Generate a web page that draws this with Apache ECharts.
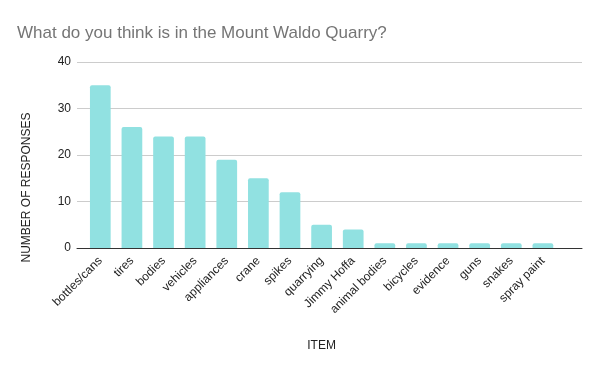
<!DOCTYPE html>
<html><head><meta charset="utf-8">
<script src="https://cdn.jsdelivr.net/npm/echarts@6/dist/echarts.min.js"></script>
<style>html,body{margin:0;padding:0;background:#fff}#c{width:600px;height:371px}</style>
</head><body><div id="c"></div>
<script>
const categories = ["bottles/cans","tires","bodies","vehicles","appliances","crane","spikes","quarrying","Jimmy Hoffa","animal bodies","bicycles","evidence","guns","snakes","spray paint"];
const responses = [35,26,24,24,19,15,12,5,4,1,1,1,1,1,1];
const yTicks = [0,10,20,30,40];
const FONT = "Liberation Sans, Arial";
const chart = echarts.init(document.getElementById('c'));
chart.setOption({
  animation:false,
  title:{text:"What do you think is in the Mount Waldo Quarry?",left:17,top:25,padding:0,textStyle:{fontFamily:FONT,fontSize:17,fontWeight:"normal",color:"#757575"}},
  grid:[
    {left:84.5,right:41.3,top:62,bottom:123},
    {left:77,right:18,top:62,bottom:123}
  ],
  xAxis:[
    {type:"category",gridIndex:0,data:categories,name:"ITEM",nameLocation:"middle",nameGap:92,
      nameTextStyle:{fontFamily:FONT,fontSize:12,color:"#222"},
      axisLine:{show:false},axisTick:{show:false},
      axisLabel:{rotate:45,interval:0,margin:11,fontFamily:FONT,fontSize:12,color:"#222"}},
    {type:"value",gridIndex:1,show:true,min:0,max:1,axisLine:{show:true,lineStyle:{color:"#333",width:1}},
      axisTick:{show:false},axisLabel:{show:false},splitLine:{show:false}}
  ],
  yAxis:[
    {type:"value",gridIndex:0,min:yTicks[0],max:yTicks[yTicks.length-1],interval:10,
      axisLine:{show:false},axisTick:{show:false},axisLabel:{show:false},splitLine:{show:false}},
    {type:"value",gridIndex:1,min:yTicks[0],max:yTicks[yTicks.length-1],interval:10,
      axisLine:{show:false},axisTick:{show:false},
      axisLabel:{margin:6,fontFamily:FONT,fontSize:12,color:"#222"},
      splitLine:{lineStyle:{color:"#cccccc",width:1}}}
  ],
  graphic:[{type:"text",x:27,y:187.5,rotation:Math.PI/2,
    style:{text:"NUMBER OF RESPONSES",font:"12px "+FONT,fill:"#222",textAlign:"center",textVerticalAlign:"middle"}}],
  series:[{type:"bar",xAxisIndex:0,yAxisIndex:0,data:responses,barCategoryGap:"34.5%",z:3,
    itemStyle:{color:"#91e1e1",borderRadius:[2,2,0,0]}}]
});
</script></body></html>
